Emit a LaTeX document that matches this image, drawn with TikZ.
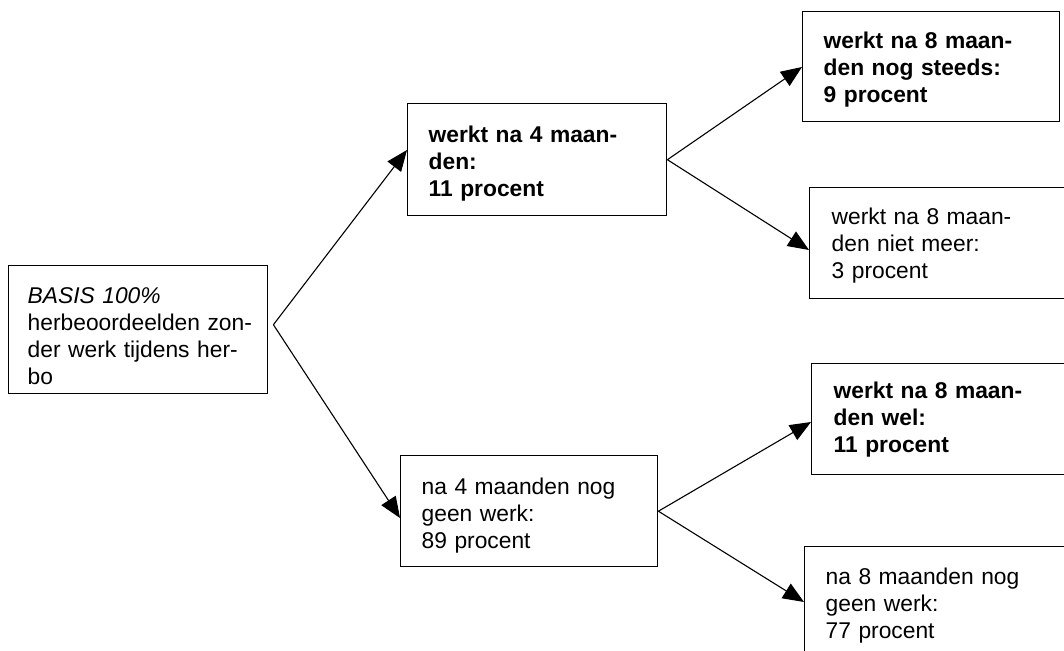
\documentclass[tikz,border=0pt]{standalone}
\usepackage{fontspec}
\setmainfont{Liberation Sans}
\usetikzlibrary{arrows.meta,calc}
\newcommand\btxt[5]{\parbox[t][#2][t]{#1}{\fontsize{22.8}{27}\selectfont\raggedright\leftskip=#3\relax\parindent=0pt\spaceskip=7.5pt plus 2pt minus 1pt\relax\rule{0pt}{#4}#5}}
\tikzset{
  box/.style={draw, line width=1.4pt, inner sep=0pt, anchor=north west},
  arr/.style={line width=1.1pt, -{Triangle[length=21pt,width=17pt]}}
}
\begin{document}
\begin{tikzpicture}[x=1pt,y=1pt]
\useasboundingbox (0,0) rectangle (1064,-650);
\clip (0,0) rectangle (1064,-650);
\fill[white] (0,0) rectangle (1064,-650);
\node[box] (a) at (8,-265) {\btxt{259pt}{128pt}{19pt}{38pt}{\textit{BASIS 100\%}\\ herbeoordeelden zon-\\ der werk tijdens her-\\ bo}};
\node[box] (b) at (407,-103) {\btxt{259pt}{112pt}{21pt}{39pt}{\textbf{werkt na 4 maan-}\\ \textbf{den:}\\ \textbf{11 procent}}};
\node[box] (c) at (400,-455) {\btxt{257pt}{111pt}{21pt}{39pt}{na 4 maanden nog\\ geen werk:\\ 89 procent}};
\node[box] (d) at (802,-11) {\btxt{257pt}{110pt}{21pt}{37pt}{\textbf{werkt na 8 maan-}\\ \textbf{den nog steeds:}\\ \textbf{9 procent}}};
\node[box] (e) at (809,-187) {\btxt{261pt}{111pt}{22pt}{37pt}{werkt na 8 maan-\\ den niet meer:\\ 3 procent}};
\node[box] (f) at (811,-363) {\btxt{259pt}{111pt}{22pt}{35pt}{\textbf{werkt na 8 maan-}\\ \textbf{den wel:}\\ \textbf{11 procent}}};
\node[box] (g) at (804,-546) {\btxt{266pt}{114pt}{21pt}{38pt}{na 8 maanden nog\\ geen werk:\\ 77 procent}};
\draw[arr] ([xshift=5pt,yshift=5pt]a.east) -- ($(b.north west)+(0,-47)$);
\draw[arr] ([xshift=5pt,yshift=5pt]a.east) -- ($(c.north west)+(0,-63)$);
\draw[arr] (b.east) -- ($(d.north west)+(0,-56)$);
\draw[arr] (b.east) -- ($(e.north west)+(0,-63)$);
\draw[arr] (c.east) -- ($(f.north west)+(0,-59)$);
\draw[arr] (c.east) -- ($(g.north west)+(0,-56)$);
\end{tikzpicture}
\end{document}
